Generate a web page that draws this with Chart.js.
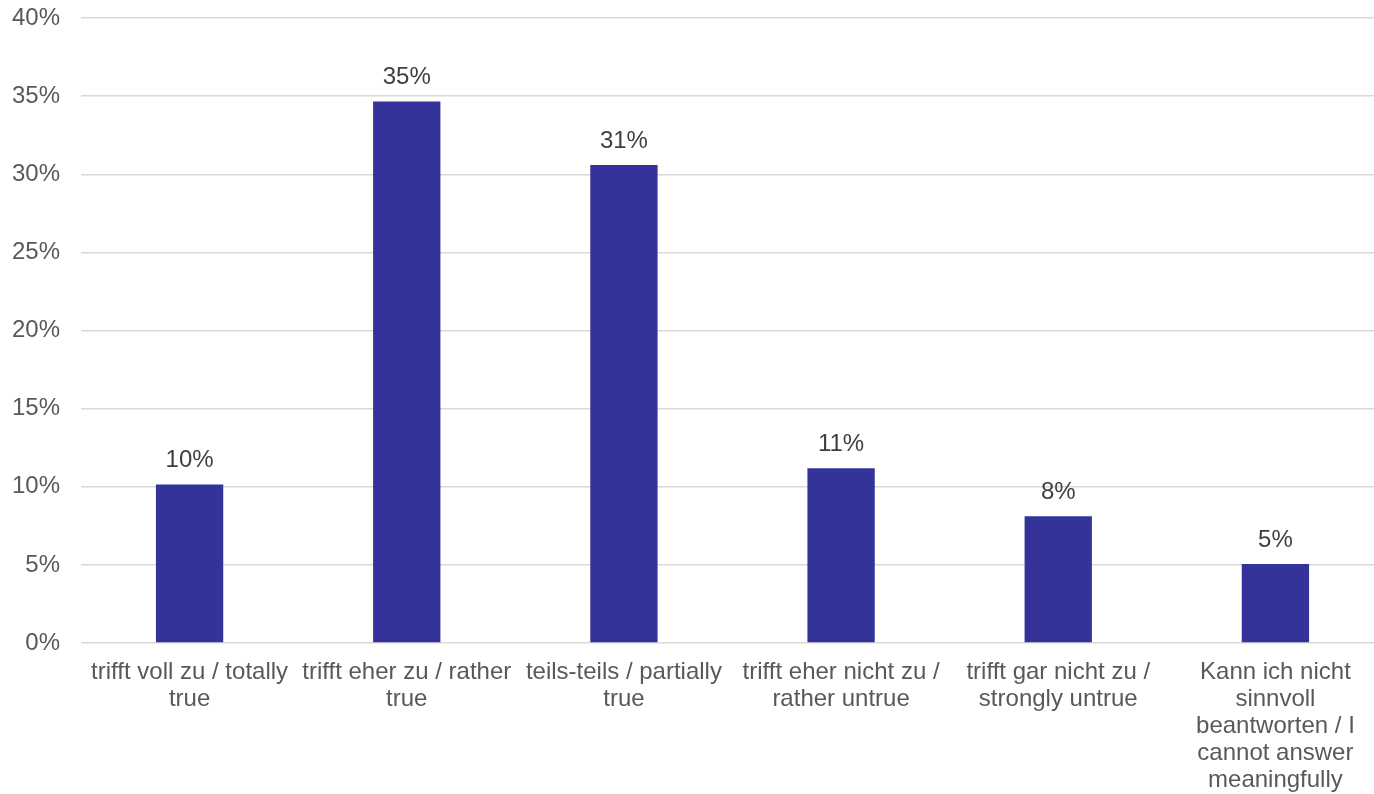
<!DOCTYPE html>
<html>
<head>
  <meta charset="UTF-8">
  <title>Antworten</title>
  <script src="https://cdn.jsdelivr.net/npm/chart.js"></script>
  <style>
    html, body { margin: 0; padding: 0; background: #fff; overflow: hidden; }
    #wrap { width: 1384px; height: 794px; }
  </style>
</head>
<body>
  <div id="wrap"><canvas id="chart" width="1384" height="794"></canvas></div>
  <script>
    const categories = [
      ['trifft voll zu / totally', 'true'],
      ['trifft eher zu / rather', 'true'],
      ['teils-teils / partially', 'true'],
      ['trifft eher nicht zu /', 'rather untrue'],
      ['trifft gar nicht zu /', 'strongly untrue'],
      ['Kann ich nicht', 'sinnvoll', 'beantworten / I', 'cannot answer', 'meaningfully']
    ];
    const shares = [10.15, 34.66, 30.6, 11.19, 8.12, 5.06];
    const yTicks = [0, 5, 10, 15, 20, 25, 30, 35, 40];

    const fontFamily = '"Liberation Sans", Arial, sans-serif';

    // value labels above each bar
    const barLabels = {
      id: 'barLabels',
      afterDatasetsDraw(chart) {
        const ctx = chart.ctx;
        const meta = chart.getDatasetMeta(0);
        ctx.save();
        ctx.font = '24px ' + fontFamily;
        ctx.fillStyle = '#404040';
        ctx.textAlign = 'center';
        ctx.textBaseline = 'middle';
        meta.data.forEach((bar, i) => {
          ctx.fillText(Math.round(shares[i]) + '%', bar.x, bar.y - 24);
        });
        ctx.restore();
      }
    };

    new Chart(document.getElementById('chart'), {
      type: 'bar',
      data: {
        labels: categories,
        datasets: [{
          data: shares,
          backgroundColor: '#333399',
          categoryPercentage: 1,
          barPercentage: 0.31
        }]
      },
      options: {
        responsive: false,
        animation: false,
        layout: { padding: { top: 18, left: 0, right: 0, bottom: 0 } },
        plugins: {
          legend: { display: false },
          tooltip: { enabled: false }
        },
        scales: {
          x: {
            grid: { display: false, drawTicks: false },
            border: { display: false },
            ticks: {
              autoSkip: false,
              maxRotation: 0,
              padding: 16,
              color: '#595959',
              font: { family: fontFamily, size: 24, lineHeight: 1.12 }
            },
            afterFit(scale) {
              scale.height = 151;
              scale.paddingLeft = 0;
              scale.paddingRight = 0;
            }
          },
          y: {
            min: 0,
            max: 40,
            afterBuildTicks(scale) { scale.ticks = yTicks.map(v => ({ value: v })); },
            grid: { color: '#d9d9d9', lineWidth: 1.5, drawTicks: false },
            border: { display: false },
            ticks: {
              padding: 21,
              color: '#595959',
              font: { family: fontFamily, size: 24 },
              callback: v => v + '%'
            },
            afterFit(scale) {
              scale.width = 81;
              scale.paddingTop = 0;
              scale.paddingBottom = 0;
            }
          }
        }
      },
      plugins: [barLabels]
    });
  </script>
</body>
</html>
